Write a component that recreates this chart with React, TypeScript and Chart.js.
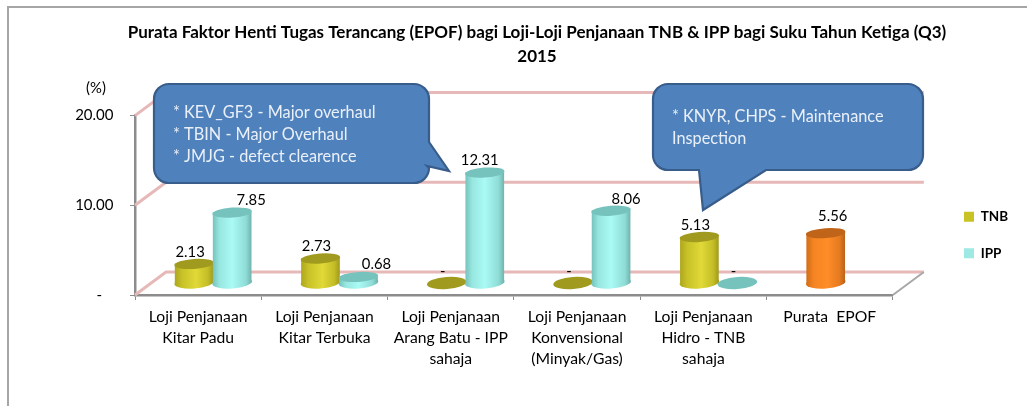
import React, { useEffect, useRef } from "react";
import { Chart, registerables } from "chart.js";

Chart.register(...registerables);

const FONT = "Lato, Calibri, sans-serif";

const categories: (string | string[])[] = [
  ["Loji Penjanaan", "Kitar Padu"],
  ["Loji Penjanaan", "Kitar Terbuka"],
  ["Loji Penjanaan", "Arang Batu - IPP", "sahaja"],
  ["Loji Penjanaan", "Konvensional", "(Minyak/Gas)"],
  ["Loji Penjanaan", "Hidro - TNB", "sahaja"],
  "Purata  EPOF",
];
const tnbValues = [2.13, 2.73, 0, 0, 5.13, 5.56];
const ippValues = [7.85, 0.68, 12.31, 8.06, 0, null];
const yTicks = [0, 10, 20];

const titleLines = [
  "Purata Faktor Henti Tugas Terancang (EPOF) bagi Loji-Loji Penjanaan TNB & IPP bagi Suku Tahun Ketiga (Q3)",
  "2015",
];
const calloutA = ["* KEV_GF3 - Major overhaul", "* TBIN - Major Overhaul", "* JMJG - defect clearence"];
const calloutB = ["* KNYR, CHPS - Maintenance", "Inspection"];

const YELLOW = "#c9c224";
const CYAN = "#9ee9e3";
const ORANGE = "#f98b25";
const tnbColors = [YELLOW, YELLOW, YELLOW, YELLOW, YELLOW, ORANGE];
const ippColors = [CYAN, CYAN, CYAN, CYAN, CYAN, CYAN];

const shades: Record<string, { stops: [number, string][]; top: string }> = {
  [YELLOW]: {
    stops: [[0, "#aca51c"], [0.2, "#c9c228"], [0.55, "#e0d938"], [0.85, "#c4bd26"], [1, "#9c961a"]],
    top: "#a09a1f",
  },
  [CYAN]: {
    stops: [[0, "#74c0ba"], [0.18, "#97e6e0"], [0.5, "#aafaf5"], [0.85, "#8fdcd6"], [1, "#6db0ab"]],
    top: "#76c3bd",
  },
  [ORANGE]: {
    stops: [[0, "#cf6c18"], [0.2, "#f58522"], [0.55, "#ff8d28"], [0.85, "#e57a1f"], [1, "#b5601a"]],
    top: "#c0641a",
  },
};

// Excel moved some labels by hand: offsets from a bar's top, dataset by category
const labelNudges: [number, number][][] = [
  [[-4, -12], [-4, -12], [-4, -12], [-4, -12], [-4, -12], [7, -17]],
  [[19, -12], [18, -13], [-5, -12], [15, -11], [-4, -12], [0, 0]],
];

const BAR_DX = 15;
const BAR_DY = -12;
const WALL_DX = 31;
const WALL_DY = -23;
const TILT = -0.07;
const PINK = "#e6b9b8";

function roundedPath(ctx: CanvasRenderingContext2D, x0: number, y0: number, x1: number, y1: number, r: number, tail: (string | number[])[]) {
  ctx.beginPath();
  ctx.moveTo(x0 + r, y0);
  ctx.lineTo(x1 - r, y0);
  ctx.arcTo(x1, y0, x1, y0 + r, r);
  if (tail[0] === "right") (tail.slice(1) as number[][]).forEach((p) => ctx.lineTo(p[0], p[1]));
  ctx.lineTo(x1, y1 - r);
  ctx.arcTo(x1, y1, x1 - r, y1, r);
  if (tail[0] === "bottom") (tail.slice(1) as number[][]).forEach((p) => ctx.lineTo(p[0], p[1]));
  ctx.lineTo(x0 + r, y1);
  ctx.arcTo(x0, y1, x0, y1 - r, r);
  ctx.lineTo(x0, y0 + r);
  ctx.arcTo(x0, y0, x0 + r, y0, r);
  ctx.closePath();
  ctx.fillStyle = "#4f81bd";
  ctx.fill();
  ctx.strokeStyle = "#385d8a";
  ctx.lineWidth = 2.2;
  ctx.stroke();
}

const depthPlugin = {
  id: "depth",
  afterLayout(chart: any) {
    const t = chart.titleBlock;
    t.left = 47;
    t.right = 1027;
    const l = chart.legend;
    l.top += 32;
    l.bottom += 32;
    const shift = 941 - l.left;
    l.left += shift;
    l.right += shift;
  },
  beforeDraw(chart: any) {
    const ctx = chart.ctx;
    ctx.save();
    ctx.strokeStyle = "#a6a6a6";
    ctx.lineWidth = 2;
    ctx.beginPath();
    ctx.moveTo(8, 406);
    ctx.lineTo(8, 7);
    ctx.lineTo(1027, 7);
    ctx.stroke();
    ctx.restore();
  },
  beforeDatasetsDraw(chart: any) {
    const ctx = chart.ctx;
    const { left, right } = chart.chartArea;
    const y = chart.scales.y;
    // back wall and side wall
    ctx.save();
    ctx.strokeStyle = PINK;
    ctx.lineWidth = 3;
    yTicks.forEach((v) => {
      const p = y.getPixelForValue(v);
      ctx.beginPath();
      ctx.moveTo(left, p);
      ctx.lineTo(left + WALL_DX, p + WALL_DY);
      ctx.lineTo(right + WALL_DX, p + WALL_DY);
      ctx.stroke();
    });
    const b = y.getPixelForValue(0);
    ctx.strokeStyle = "#a8a8a8";
    ctx.lineWidth = 2;
    ctx.beginPath();
    ctx.moveTo(right, b);
    ctx.lineTo(right + WALL_DX, b + WALL_DY);
    ctx.stroke();
    ctx.restore();

    // cylinders: the library's bar elements, given a curved body and ellipses
    chart.data.datasets.forEach((ds: any, di: number) => {
      const meta = chart.getDatasetMeta(di);
      meta.data.forEach((el: any, i: number) => {
        if (ds.data[i] === null) return;
        const s = shades[ds.backgroundColor[i]];
        const rx = el.width / 2 + 0.8;
        const x = el.x + BAR_DX;
        const top = el.y + BAR_DY;
        const base = el.base + BAR_DY;
        const shade = (cx: number) => {
          const g = ctx.createLinearGradient(cx - rx, 0, cx + rx, 0);
          s.stops.forEach(([o, c]) => g.addColorStop(o, c));
          return g;
        };
        ctx.save();
        if (ds.data[i] > 0) {
          ctx.fillStyle = shade(x);
          ctx.beginPath();
          ctx.ellipse(x, base, rx, 6, TILT, 0, Math.PI * 2);
          ctx.fill();
          ctx.translate(BAR_DX, BAR_DY);
          const saved = el.options;
          el.options = { ...saved, backgroundColor: shade(el.x), borderWidth: 0 };
          el.draw(ctx);
          el.options = saved;
          ctx.translate(-BAR_DX, -BAR_DY);
        }
        ctx.fillStyle = s.top;
        ctx.beginPath();
        ctx.ellipse(x, top, rx, ds.data[i] > 0 ? 5 : 6, TILT, 0, Math.PI * 2);
        ctx.fill();
        ctx.restore();
      });
    });

    // value labels
    ctx.save();
    ctx.fillStyle = "#000";
    ctx.textAlign = "center";
    ctx.textBaseline = "middle";
    ctx.font = `14.8px ${FONT}`;
    chart.data.datasets.forEach((ds: any, di: number) => {
      chart.getDatasetMeta(di).data.forEach((el: any, i: number) => {
        const v = ds.data[i];
        if (v === null) return;
        const [nx, ny] = labelNudges[di][i];
        ctx.fillText(v === 0 ? "-" : v.toFixed(2), el.x + BAR_DX + nx, el.y + BAR_DY + ny);
      });
    });
    ctx.restore();
    return false;
  },
  afterDraw(chart: any) {
    const ctx = chart.ctx;
    ctx.save();
    ctx.fillStyle = "#000";
    ctx.font = `14.8px ${FONT}`;
    ctx.textAlign = "center";
    ctx.textBaseline = "middle";
    ctx.fillText("(%)", 96, 88);

    roundedPath(ctx, 154, 84, 429, 183, 15, ["right", [429, 142], [449, 171], [427, 166]]);
    roundedPath(ctx, 653, 84, 923, 170, 15, ["bottom", [766, 170], [703, 210], [699, 170]]);
    ctx.fillStyle = "#eaf0f8";
    ctx.textAlign = "left";
    ctx.font = `16.3px ${FONT}`;
    calloutA.forEach((t, i) => ctx.fillText(t, 173, 113 + i * 21.7));
    calloutB.forEach((t, i) => ctx.fillText(t, 672, 117 + i * 22));
    ctx.restore();
  },
};

export default function App() {
  const ref = useRef<HTMLCanvasElement>(null);
  useEffect(() => {
    const chart = new Chart(ref.current as HTMLCanvasElement, {
      type: "bar",
      data: {
        labels: categories as any,
        datasets: [
          { label: "TNB", data: tnbValues, backgroundColor: tnbColors, barThickness: 38 },
          { label: "IPP", data: ippValues, backgroundColor: ippColors, barThickness: 38 },
        ],
      },
      plugins: [depthPlugin as any],
      options: {
        animation: false,
        responsive: false,
        layout: { padding: { left: 47, right: 57, top: 0, bottom: 0 } },
        plugins: {
          title: {
            display: true,
            text: titleLines,
            color: "#000",
            font: { family: FONT, size: 17, weight: "bold", lineHeight: 1.4 },
            padding: { top: 21, bottom: 47 },
          },
          legend: {
            position: "right",
            labels: {
              color: "#000",
              boxWidth: 10,
              boxHeight: 10,
              padding: 23,
              font: { family: FONT, size: 13.5, weight: "bold" },
              generateLabels: () => [
                { text: "TNB", fillStyle: YELLOW, strokeStyle: YELLOW, lineWidth: 0, datasetIndex: 0 },
                { text: "IPP", fillStyle: CYAN, strokeStyle: CYAN, lineWidth: 0, datasetIndex: 1 },
              ] as any,
            },
          },
          tooltip: { enabled: false },
        },
        scales: {
          x: {
            afterFit: (s: any) => { s.height = 111; },
            border: { color: "#8c8c8c", width: 2.5 },
            grid: { drawOnChartArea: false, offset: true, color: "#8c8c8c", tickLength: 5 },
            ticks: {
              color: "#000",
              autoSkip: false,
              maxRotation: 0,
              padding: 7,
              font: { family: FONT, size: 15.7, lineHeight: 1.33 },
            },
          },
          y: {
            min: 0,
            max: 20,
            afterFit: (s: any) => { s.width = 88; },
            afterBuildTicks: (s: any) => { s.ticks = yTicks.map((value) => ({ value })); },
            border: { color: "#8c8c8c", width: 2.5 },
            grid: { drawOnChartArea: false, color: "#8c8c8c", tickLength: 5 },
            ticks: {
              color: "#000",
              padding: 16.5,
              font: { family: FONT, size: 15 },
              callback: (v: any) => (Number(v) === 0 ? "-   " : Number(v).toFixed(2)),
            },
          },
        },
      } as any,
    });
    return () => chart.destroy();
  }, []);
  return (
    <canvas
      ref={ref}
      width={1027}
      height={406}
      style={{ position: "absolute", left: 0, top: 0, display: "block" }}
    />
  );
}
